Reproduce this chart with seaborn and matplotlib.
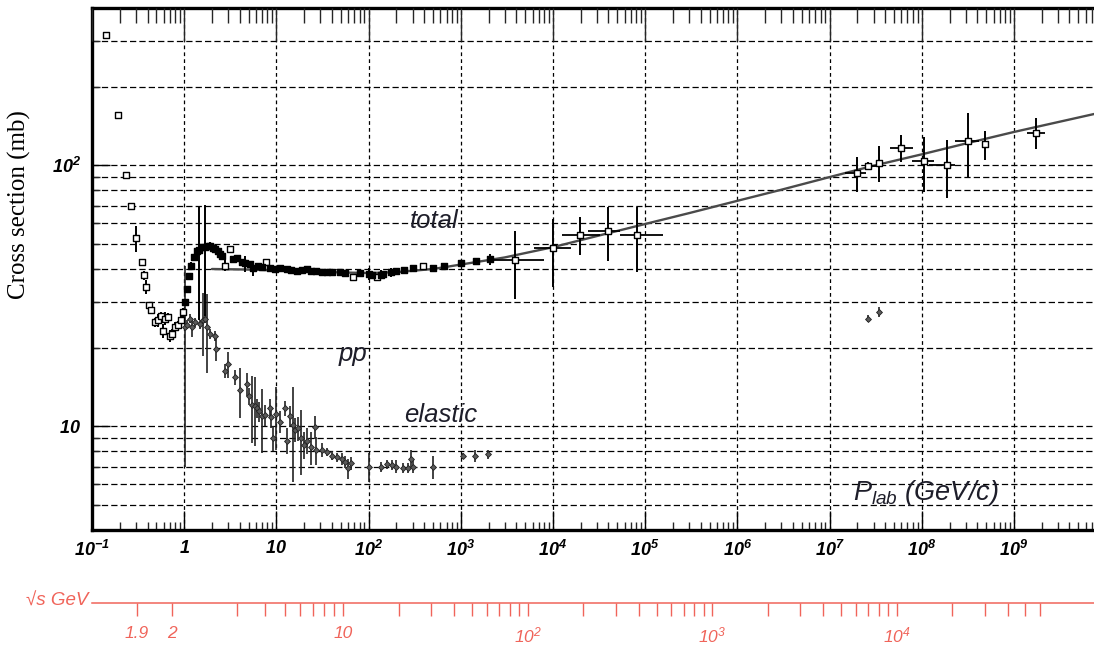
import matplotlib
matplotlib.use("Agg")
import matplotlib.pyplot as plt
import matplotlib.ticker as mticker
import numpy as np
import pandas as pd
import seaborn as sns

sns.set_style("white")
plt.rcParams["font.family"] = ["Liberation Sans", "DejaVu Sans"]
plt.rcParams["mathtext.fontset"] = "custom"
plt.rcParams["mathtext.rm"] = "Liberation Sans"
plt.rcParams["mathtext.it"] = "Liberation Sans:italic"
plt.rcParams["mathtext.bf"] = "Liberation Sans:italic:bold"
plt.rcParams["mathtext.sf"] = "Liberation Sans:italic"

RED = "#f0645a"
TXT = "#1e1e2a"
M_P = 0.938  # proton mass, GeV

# total pp cross section: p_lab (GeV/c), sigma (mb), error (mb)
tot_p = [0.142, 0.191, 0.233, 0.268, 0.300, 0.350, 0.370, 0.390, 0.420, 0.437,
         0.480, 0.525, 0.560, 0.590, 0.620, 0.660, 0.700, 0.740, 0.790, 0.860,
         0.920, 0.980, 1.02, 1.06, 1.12, 1.19, 1.29, 1.37, 1.45, 1.55,
         1.68, 1.80, 1.90, 2.05, 2.15, 2.30, 2.44, 2.60, 2.80, 3.13,
         3.40, 3.70, 4.20, 4.60, 5.20, 5.60, 6.30, 7.00, 7.80, 8.50,
         9.60, 11, 13, 14.5, 16.7, 19, 21.3, 24, 27, 31,
         35, 40, 49, 55, 68, 80, 100, 110, 122, 138,
         145, 175, 200, 240, 300, 390, 505, 660, 1010, 1450,
         2080, 3870, 1.0e4, 1.96e4, 4.0e4, 8.07e4, 2.0e7, 2.6e7, 3.4e7, 6.0e7,
         1.07e8, 1.87e8, 3.2e8, 4.8e8, 1.74e9]
tot_sig = [315, 155, 92, 70, 52.6, 42.7, 37.8, 34.2, 29.0, 27.9,
           25.0, 25.4, 26.4, 23.2, 25.8, 26.1, 22.2, 22.6, 24.0, 24.3,
           25.4, 27.3, 29.8, 33.5, 37.7, 41.2, 44.3, 47.0, 47.5, 48.5,
           48.4, 48.8, 49.1, 48.3, 47.7, 46.8, 45.6, 45.0, 41.2, 47.7,
           43.7, 44.0, 42.5, 42.0, 41.8, 40.2, 41.2, 40.6, 42.4, 40.3,
           40.0, 40.2, 40.0, 39.6, 39.4, 39.8, 40.0, 39.3, 39.4, 39.0,
           39.0, 38.8, 38.9, 38.5, 37.2, 38.6, 38.3, 38.0, 37.3, 38.0,
           38.3, 38.9, 39.3, 39.7, 40.3, 41.0, 40.3, 40.9, 42.1, 43.0,
           43.6, 43.3, 48.1, 54.1, 56.0, 54.0, 93, 99.4, 102, 116.5,
           103.6, 100, 124, 120, 133]
tot_err = [10, 0, 0, 0, 6, 0, 1.5, 2, 1, 1,
           1, 1.5, 1, 1.5, 1.5, 1, 1.2, 1, 1, 1,
           1, 1, 1, 1, 1, 1.5, 1, 1, 22, 1,
           22, 1, 1.5, 1, 1, 1, 2, 1, 2, 1,
           1, 1, 1, 3, 1, 2.5, 1, 1, 1, 1,
           1, 0.8, 0.8, 0.8, 0.8, 0.8, 0.8, 0.8, 0.8, 0.8,
           0.8, 0.8, 0.8, 0.8, 0.8, 0.8, 2, 1, 1, 1.5,
           1, 1.5, 1, 0.8, 0.8, 0.8, 0.6, 0.6, 0.8, 1,
           2, 12.6, 14, 9, 13, 15, 14, 3, 16, 13.5,
           25, 25, 34, 15, 18]
# points drawn as open squares in the 1-3000 GeV/c band
tot_open_p = [0.191, 0.233, 0.300, 2.80, 3.13, 7.80, 68, 122, 390]

# horizontal (momentum) bars on the high-energy total points
hb_p = [3870, 1.0e4, 1.96e4, 4.0e4, 8.07e4, 2.0e7, 2.6e7, 6.0e7, 1.07e8, 1.87e8, 3.2e8, 1.74e9]
hb_sig = [43.3, 48.1, 54.1, 56.0, 54.0, 93, 99.4, 116.5, 103.6, 100, 124, 133]
hb_lo = [1905, 6170, 1.24e4, 2.42e4, 5.33e4, 1.47e7, 2.48e7, 4.5e7, 7.8e7, 1.2e8, 2.3e8, 1.37e9]
hb_hi = [7943, 1.58e4, 3.24e4, 5.33e4, 1.55e5, 2.5e7, 3.5e7, 7.95e7, 1.36e8, 2.3e8, 4.2e8, 2.17e9]

# elastic pp cross section
el_p = [1.02, 1.08, 1.15, 1.22, 1.30, 1.48, 1.60, 1.68, 1.75, 1.90,
        2.15, 2.20, 2.75, 3.0, 3.6, 4.0, 4.8, 5.1, 5.4, 5.9,
        6.2, 6.5, 6.9, 7.6, 8.5, 8.8, 9.2, 10, 11, 12.3,
        13, 14, 15.2, 16, 17, 18.7, 20, 21.6, 23.5, 26,
        27, 31, 35, 40, 45, 51, 55, 60, 65, 102,
        138, 158, 178, 200, 235, 265, 290, 305, 500, 1060,
        1430, 1990, 2.6e7, 3.4e7]
el_sig = [24.0, 24.5, 25.8, 24.0, 25.0, 24.6, 25.5, 25.8, 24.0, 22.5,
          22.2, 19.8, 16.3, 17.3, 15.4, 13.7, 14.5, 13.0, 12.1, 11.9,
          11.7, 11.4, 10.9, 11.0, 11.7, 10.8, 9.0, 11.1, 10.4, 11.7,
          8.8, 10.9, 10.1, 9.7, 9.8, 9.0, 8.5, 8.8, 8.3, 9.9,
          8.1, 8.1, 7.96, 7.7, 7.6, 7.5, 7.3, 6.9, 7.2, 7.0,
          7.0, 7.15, 7.1, 7.0, 6.9, 6.9, 7.5, 7.0, 7.0, 7.7,
          7.7, 7.8, 25.8, 27.3]
el_err = [17, 1, 1, 2, 1, 1, 7, 1, 8, 1,
          1, 2, 1, 2, 1, 3, 1.5, 1, 3.5, 3.5,
          1, 1, 3, 1, 1, 1, 1, 3, 1, 0.8,
          1, 1, 4, 1, 1, 2.5, 1, 1, 1.2, 1,
          1, 0.5, 0.3, 0.3, 0.3, 0.4, 0.4, 0.6, 0.4, 0.9,
          0.3, 0.3, 0.3, 0.4, 0.3, 0.3, 0.6, 0.4, 0.7, 0.2,
          0.4, 0.3, 0.8, 1.2]

# fitted total cross section curve
fit_p = [2, 5, 10, 20, 50, 100, 200, 500, 1e3, 3e3, 1e4, 3e4, 1e5, 3e5,
         1e6, 3e6, 1e7, 3e7, 1e8, 3e8, 1e9, 7.4e9]
fit_sig = [40.0, 39.8, 39.5, 39.2, 38.8, 38.6, 38.9, 40.0, 41.6, 44.3, 48.5, 53.5,
           59.5, 65.5, 73.0, 80.5, 90.0, 99.5, 110, 121, 134, 157]

x_ticks = [10.0 ** k for k in range(-1, 10)]
x_labels = [r"$\mathbf{10^{-1}}$", r"$\mathbf{1}$", r"$\mathbf{10}$"] + \
           [r"$\mathbf{10^{%d}}$" % k for k in range(2, 10)]
y_ticks = [10, 100]
y_labels = [r"$\mathbf{10}$", r"$\mathbf{10^{2}}$"]

rs_ticks = [1.9, 2, 3, 4, 5, 6, 7, 8, 9, 10, 20, 30, 40, 50, 60, 70, 80, 90, 100,
            200, 300, 400, 500, 600, 700, 800, 900, 1000,
            2000, 3000, 4000, 5000, 6000, 7000, 8000, 9000, 10000,
            20000, 30000, 40000, 50000, 60000]
rs_named = {1.9: "1.9", 2: "2", 10: "10", 100: r"$\mathsf{10^{2}}$",
            1000: r"$\mathsf{10^{3}}$", 10000: r"$\mathsf{10^{4}}$"}

XLIM = (0.1, 7.38e9)
YLIM = (4, 400)


def sqrts_to_plab(rs):
    s = np.asarray(rs, dtype=float) ** 2
    e = (s - 2 * M_P ** 2) / (2 * M_P)
    return np.sqrt(e ** 2 - M_P ** 2)


W, H = 1094, 646
fig = plt.figure(figsize=(W / 100, H / 100), dpi=100)
L, B, R, T = 92, 530, 1094, 8
ax = fig.add_axes([L / W, 1 - B / H, (R - L) / W, (B - T) / H])

tot = pd.DataFrame({"p": tot_p, "sigma": tot_sig, "err": tot_err})
tot["open"] = (tot["p"] < 1) | (tot["p"] > 3000) | tot["p"].isin(tot_open_p)
el = pd.DataFrame({"p": el_p, "sigma": el_sig, "err": el_err})
fit = pd.DataFrame({"p": fit_p, "sigma": fit_sig})

ax.set_xscale("log")
ax.set_yscale("log")

sns.lineplot(data=fit, x="p", y="sigma", color="#4a4a4a", lw=1.7, ax=ax, zorder=2)

ax.errorbar(el["p"], el["sigma"], yerr=el["err"], fmt="none", ecolor="#222222",
            elinewidth=1.2, capsize=0, zorder=3)
sns.scatterplot(data=el, x="p", y="sigma", marker="D", s=9, color="#5a5a5a",
                edgecolor="#222222", linewidth=0.6, ax=ax, zorder=4)

ax.errorbar(tot["p"], tot["sigma"], yerr=tot["err"], fmt="none", ecolor="black",
            elinewidth=1.4, capsize=0, zorder=3)
hb_p_arr = np.array(hb_p)
ax.errorbar(hb_p_arr, hb_sig,
            xerr=[hb_p_arr - np.array(hb_lo), np.array(hb_hi) - hb_p_arr],
            fmt="none", ecolor="black", elinewidth=1.3, capsize=0, zorder=3)
sns.scatterplot(data=tot[tot["open"]], x="p", y="sigma", marker="s", s=14, color="white",
                edgecolor="black", linewidth=1.0, ax=ax, zorder=5)
sns.scatterplot(data=tot[~tot["open"]], x="p", y="sigma", marker="s", s=16, color="black",
                edgecolor="black", linewidth=1.0, ax=ax, zorder=5)

ax.set_xlim(*XLIM)
ax.set_ylim(*YLIM)

# ticks and grid
ax.set_xticks(x_ticks, labels=x_labels)
ax.xaxis.set_minor_locator(mticker.LogLocator(base=10, subs=np.arange(2, 10), numticks=200))
ax.xaxis.set_minor_formatter(mticker.NullFormatter())
ax.set_yticks(y_ticks, labels=y_labels)
ax.yaxis.set_minor_locator(mticker.LogLocator(base=10, subs=np.arange(2, 10), numticks=200))
ax.yaxis.set_minor_formatter(mticker.NullFormatter())

ax.tick_params(axis="x", which="major", direction="in", length=14, width=1,
               top=False, bottom=True, pad=7, labelsize=13, colors="black")
ax.tick_params(axis="x", which="minor", direction="in", length=5.5, width=1,
               top=False, bottom=True)
ax.tick_params(axis="y", which="major", direction="in", length=13, width=1,
               left=True, right=False, pad=8, labelsize=13, colors="black")
ax.tick_params(axis="y", which="minor", direction="in", length=6, width=1,
               left=True, right=False)

ax.set_axisbelow(True)
ax.xaxis.grid(True, which="major", color="black", lw=0.9, linestyle=(0, (3, 2.5)))
ax.yaxis.grid(True, which="both", color="black", lw=0.9, linestyle=(0, (5, 2.5)))

for side in ["left", "bottom", "top"]:
    ax.spines[side].set_color("black")
    ax.spines[side].set_linewidth(2.4)
ax.spines["right"].set_visible(False)

# long ticks hanging from the top frame
top = ax.twiny()
top.set_xscale("log")
top.set_xlim(*XLIM)
top.set_xticks(x_ticks)
top.xaxis.set_minor_locator(mticker.LogLocator(base=10, subs=np.arange(2, 10), numticks=200))
top.tick_params(axis="x", which="major", direction="in", length=24, width=1,
                labeltop=False, top=True, bottom=False)
top.tick_params(axis="x", which="minor", direction="in", length=11, width=1,
                labeltop=False, top=True, bottom=False)
for s in top.spines.values():
    s.set_visible(False)

ax.set_xlabel("")
ax.set_ylabel("Cross section (mb)", fontfamily="Liberation Serif", fontsize=18,
              color="black")
ax.yaxis.set_label_coords(-0.061, 0.623)

# sqrt(s) axis
sax = fig.add_axes([L / W, 1 - 603 / H, (R - L) / W, 0.0005])
sax.set_xscale("log")
sax.set_xlim(*XLIM)
sax.set_yticks([])
sax.patch.set_visible(False)
for side in ["left", "right", "top"]:
    sax.spines[side].set_visible(False)
sax.spines["bottom"].set_color(RED)
sax.spines["bottom"].set_linewidth(1.1)
sax.set_xticks(sqrts_to_plab(rs_ticks), labels=[rs_named.get(v, "") for v in rs_ticks])
sax.xaxis.set_minor_locator(mticker.NullLocator())
sax.tick_params(axis="x", which="major", direction="out", length=9, width=1,
                bottom=True, top=False, colors=RED, labelsize=12.5, pad=7.5)
for t in sax.get_xticklabels():
    t.set_fontstyle("italic")

fig.text(88 / W, 1 - 601 / H, "\u221as GeV", color=RED, fontsize=13.5,
         fontstyle="italic", ha="right", va="center")

# curve labels
ax.text(512, 61, "total", fontsize=18.5, fontstyle="italic", color=TXT,
        ha="center", va="center")
ax.text(67.8, 18.9, "pp", fontsize=18.5, fontstyle="italic", color=TXT,
        ha="center", va="center")
ax.text(610, 11.0, "elastic", fontsize=18.5, fontstyle="italic", color=TXT,
        ha="center", va="center")
ax.text(1.8e7, 5.2, r"$P_{lab}$ (GeV/c)", fontsize=19.5, fontstyle="italic",
        color=TXT, ha="left", va="baseline")

fig.savefig("out.png", dpi=100)
